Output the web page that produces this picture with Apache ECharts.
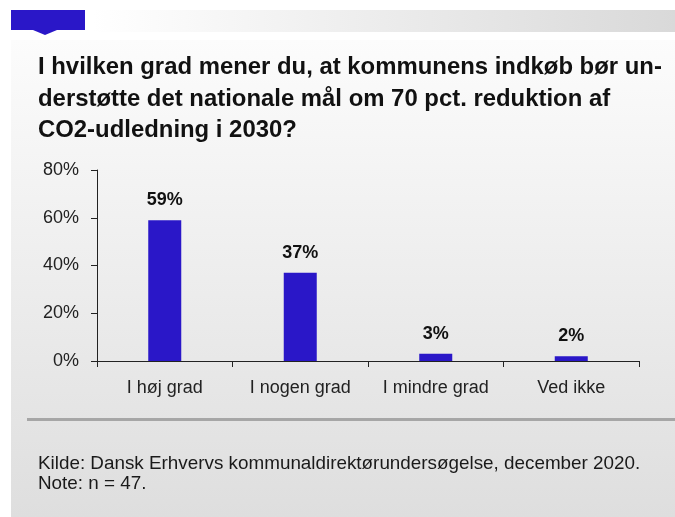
<!DOCTYPE html>
<html>
<head>
<meta charset="utf-8">
<script src="https://cdn.jsdelivr.net/npm/echarts@6/dist/echarts.min.js"></script>
<style>
  html, body { margin: 0; padding: 0; background: #fff; }
  #chart { width: 675px; height: 517px; }
</style>
</head>
<body>
<div id="chart"></div>
<script>
const categories = ['I høj grad', 'I nogen grad', 'I mindre grad', 'Ved ikke'];
const shares = [59, 37, 3, 2];
const yTicks = [0, 20, 40, 60, 80];

const titleText = 'I hvilken grad mener du, at kommunens indkøb bør un-\nderstøtte det nationale mål om 70 pct. reduktion af\nCO2-udledning i 2030?';
const sourceText = 'Kilde: Dansk Erhvervs kommunaldirektørundersøgelse, december 2020.\nNote: n = 47.';

const chart = echarts.init(document.getElementById('chart'), null, { renderer: 'canvas' });

var option = {
    backgroundColor: '#fff',
    animation: false,
    graphic: [
        {
            // main panel
            type: 'rect', z: -10,
            shape: { x: 11, y: 40, width: 664, height: 477 },
            style: {
                fill: new echarts.graphic.LinearGradient(0, 0, 0, 1, [
                    { offset: 0, color: '#fcfcfc' },
                    { offset: 1, color: '#dedede' }
                ])
            }
        },
        {
            // top bar
            type: 'rect', z: -10,
            shape: { x: 93, y: 10, width: 582, height: 22 },
            style: {
                fill: new echarts.graphic.LinearGradient(0, 0, 1, 0, [
                    { offset: 0, color: '#ffffff' },
                    { offset: 1, color: '#d9d9d9' }
                ])
            }
        },
        {
            type: 'rect',
            shape: { x: 11, y: 10, width: 74, height: 20 },
            style: { fill: '#2a17c8' }
        },
        {
            type: 'polygon',
            shape: { points: [[33, 30], [57, 30], [45, 35]] },
            style: { fill: '#2a17c8' }
        },
        {
            // separator
            type: 'rect',
            shape: { x: 27, y: 418, width: 648, height: 3 },
            style: { fill: '#a6a6a6' }
        },
        {
            type: 'text',
            left: 38, top: 454,
            style: {
                text: sourceText,
                font: '18.85px "Liberation Sans", Arial, sans-serif',
                fill: '#1a1a1a',
                lineHeight: 20
            }
        }
    ],
    title: {
        text: titleText,
        left: 38 - 5,
        top: 52 - 5,
        textStyle: {
            fontFamily: '"Liberation Sans", Arial, sans-serif',
            fontWeight: 'bold',
            fontSize: 23.9,
            lineHeight: 31.5,
            color: '#111'
        }
    },
    grid: {
        left: 97,
        right: 675 - 639,
        top: 170,
        bottom: 517 - 361,
        containLabel: false
    },
    xAxis: {
        type: 'category',
        data: categories,
        axisLine: { lineStyle: { color: '#222', width: 1 } },
        axisTick: { show: true, length: 6, lineStyle: { color: '#222' } },
        axisLabel: {
            interval: 0,
            color: '#222',
            fontSize: 18,
            fontFamily: '"Liberation Sans", Arial, sans-serif',
            margin: 18
        }
    },
    yAxis: {
        type: 'value',
        min: 0,
        max: 80,
        interval: 20,
        axisLine: { show: true, lineStyle: { color: '#222', width: 1 } },
        axisTick: { show: true, length: 6, lineStyle: { color: '#222' } },
        splitLine: { show: false },
        axisLabel: {
            color: '#222',
            fontSize: 18,
            fontFamily: '"Liberation Sans", Arial, sans-serif',
            margin: 18,
            formatter: function (v) { return yTicks.indexOf(v) >= 0 ? v + '%' : ''; }
        }
    },
    series: [{
        type: 'bar',
        data: shares,
        barWidth: 33,
        itemStyle: { color: '#2a17c8' },
        label: {
            show: true,
            position: 'top',
            distance: 11,
            formatter: '{c}%',
            color: '#111',
            fontWeight: 'bold',
            fontSize: 18,
            fontFamily: '"Liberation Sans", Arial, sans-serif'
        }
    }]
};
chart.setOption(option);
</script>
</body>
</html>
